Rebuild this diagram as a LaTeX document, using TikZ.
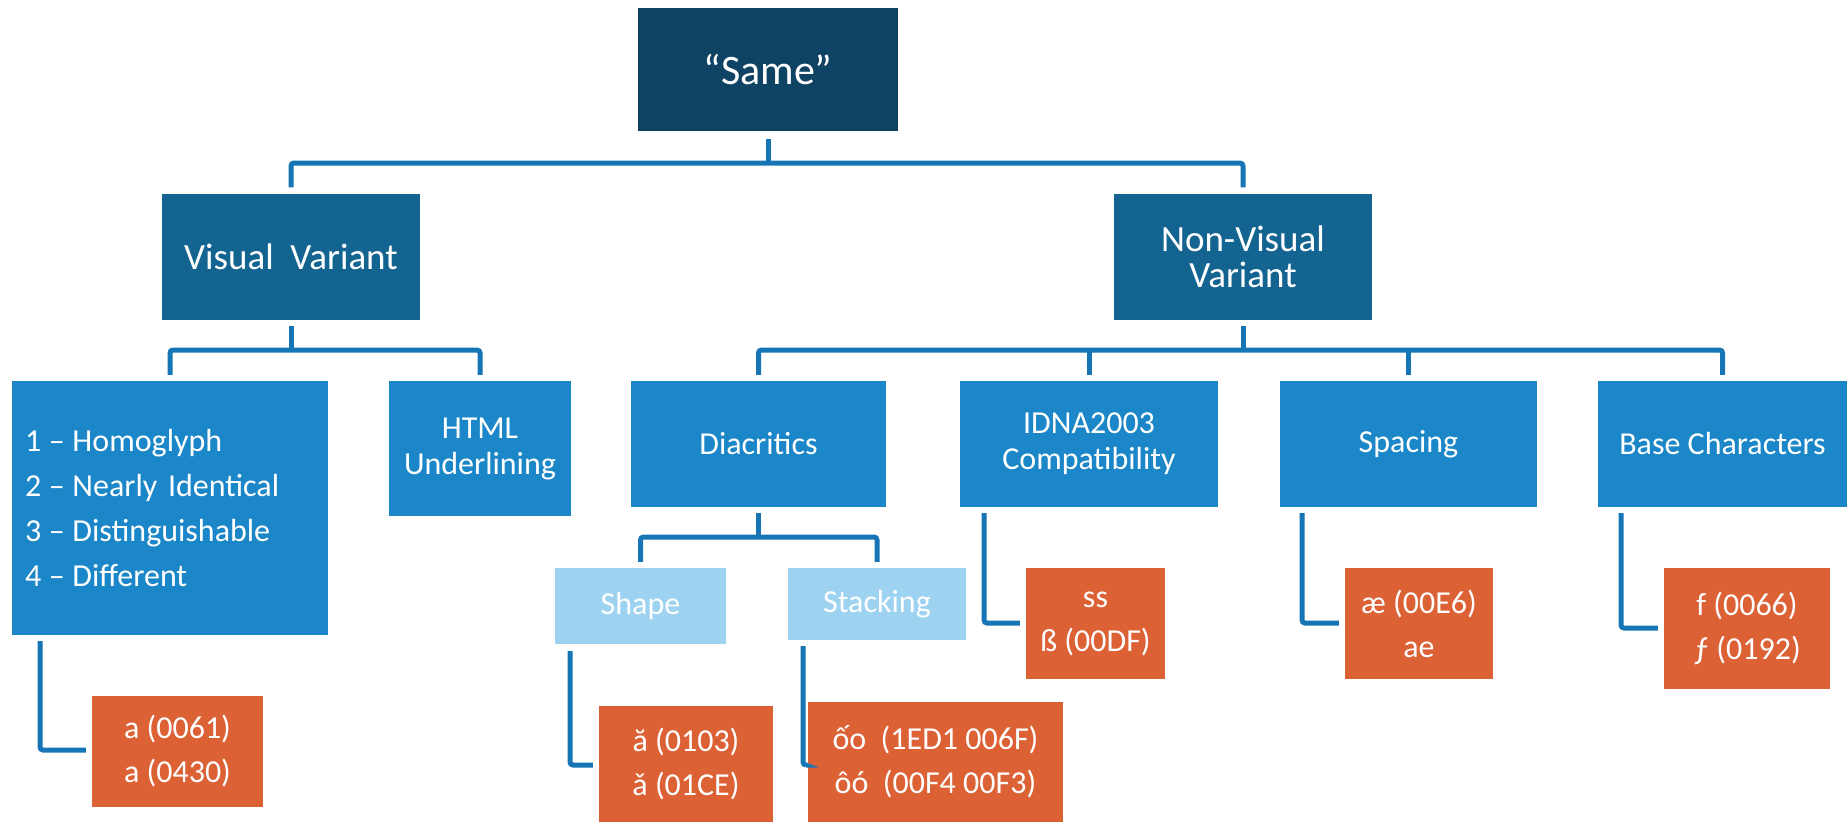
\documentclass[tikz,border=0pt]{standalone}
\usepackage{fontspec}
\setmainfont{Carlito}
\usetikzlibrary{calc}
\definecolor{cSame}{RGB}{15,67,100}
\definecolor{cLvlA}{RGB}{20,100,146}
\definecolor{cLvlB}{RGB}{28,135,200}
\definecolor{cLight}{RGB}{157,210,241}
\definecolor{cOrange}{RGB}{220,97,53}
\definecolor{cConn}{RGB}{22,117,180}
\newcommand\myfs[2]{\fontsize{#1pt}{#2pt}\selectfont}
\newcommand\mydash{\kern-3pt\ –\ \kern-3pt}
\begin{document}
\begin{tikzpicture}[x=1pt,y=-1pt,
  box/.style={rectangle, inner sep=0pt, text=white, align=center},
  topbox/.style={box, fill=cSame, font=\myfs{42}{48}},
  lvlone/.style={box, fill=cLvlA, font=\myfs{37}{36}},
  lvltwo/.style={box, fill=cLvlB, font=\myfs{32}{36}},
  lvllight/.style={box, fill=cLight, font=\myfs{32}{36}},
  leafbox/.style={box, fill=cOrange, font=\myfs{32}{44}},
  conn/.style={draw=cConn, line width=5pt, rounded corners=3pt}]
\useasboundingbox (0,0) rectangle (1847,822);

% nodes
\node[topbox, minimum width=260pt, minimum height=123pt] (same) at (768,69.5) {“Same”};
\node[lvlone, minimum width=258pt, minimum height=126pt] (vv) at (291,256.5) {Visual\ \ Variant};
\node[lvlone, minimum width=258pt, minimum height=126pt] (nvv) at (1243,256.5) {Non-Visual\\Variant};

\node[lvltwo, minimum width=316pt, minimum height=254pt, align=left, text width=290pt, font=\myfs{32}{45}] (homo) at (170,508)
  {1\mydash Homoglyph\\2\mydash Nearly Identical\\3\mydash Distinguishable\\4\mydash Different};
\node[lvltwo, minimum width=182pt, minimum height=135pt] (html) at (480,448.5) {HTML\\Underlining};
\node[lvltwo, minimum width=255pt, minimum height=126pt] (diac) at (758.5,444) {Diacritics};
\node[lvltwo, minimum width=258pt, minimum height=126pt] (idna) at (1089,444) {IDNA2003\\Compatibility};
\node[lvltwo, minimum width=257pt, minimum height=126pt] (spac) at (1408.5,444) {Spacing};
\node[lvltwo, minimum width=249pt, minimum height=126pt] (base) at (1722.5,444) {Base Characters};

\node[lvllight, minimum width=171pt, minimum height=76pt] (shape) at (640.5,606) {Shape};
\node[lvllight, minimum width=178pt, minimum height=72pt] (stack) at (877,604) {Stacking};

\node[leafbox, minimum width=171pt, minimum height=111pt] (la) at (177.5,751.5) {a (0061)\\а (0430)};
\node[leafbox, minimum width=174pt, minimum height=116pt] (lbreve) at (686,764) {ă (0103)\\ǎ (01CE)};
\node[leafbox, minimum width=255pt, minimum height=120pt] (lstack) at (935.5,762) {ốo\ \ (1ED1 006F)\\ôó\ \ (00F4 00F3)};
\node[leafbox, minimum width=139pt, minimum height=111pt] (lss) at (1095.5,623.5) {ss\\ß (00DF)};
\node[leafbox, minimum width=148pt, minimum height=111pt] (lae) at (1419,623.5) {æ (00E6)\\ae};
\node[leafbox, minimum width=166pt, minimum height=121pt] (lf) at (1747,628.5) {f (0066)\\ƒ (0192)};

% bus levels
\coordinate (busA) at (0,163);
\coordinate (busB) at (0,350);
\coordinate (busC) at (0,537);

% tree connectors
\draw[conn, rounded corners=0pt, shorten <=8pt] (same.south) -- (same.south |- busA);
\draw[conn, shorten <=6pt, shorten >=6pt] (vv.north) -- (vv.north |- busA) -- (nvv.north |- busA) -- (nvv.north);

\draw[conn, rounded corners=0pt, shorten <=6pt] (vv.south) -- (vv.south |- busB);
\draw[conn, shorten <=6pt, shorten >=6pt] (homo.north) -- (homo.north |- busB) -- (html.north |- busB) -- (html.north);

\draw[conn, rounded corners=0pt, shorten <=6pt] (nvv.south) -- (nvv.south |- busB);
\draw[conn, shorten <=6pt, shorten >=6pt] (diac.north) -- (diac.north |- busB) -- (base.north |- busB) -- (base.north);
\draw[conn, rounded corners=0pt, shorten >=6pt] (idna.north |- busB) -- (idna.north);
\draw[conn, rounded corners=0pt, shorten >=6pt] (spac.north |- busB) -- (spac.north);

\draw[conn, rounded corners=0pt, shorten <=6pt] (diac.south) -- (diac.south |- busC);
\draw[conn, shorten <=6pt, shorten >=6pt] (shape.north) -- (shape.north |- busC) -- (stack.north |- busC) -- (stack.north);

% elbow connectors to leaves
\coordinate (e1) at (40,750);
\coordinate (e2) at (570,765);
\coordinate (e3) at (803,765);
\coordinate (e4) at (984,623);
\coordinate (e5) at (1302,623);
\coordinate (e6) at (1621,628);
\draw[conn, shorten <=6pt, shorten >=6pt] (e1 |- homo.south) -- (e1) -- (e1 -| la.west);
\draw[conn, shorten <=7pt, shorten >=6pt] (e2 |- shape.south) -- (e2) -- (e2 -| lbreve.west);
\draw[conn, shorten <=6pt] (e3 |- stack.south) -- (e3) -- ($(e3 -| lstack.west)+(-2,0)$);
\draw[conn, shorten <=6pt, shorten >=6pt] (e4 |- idna.south) -- (e4) -- (e4 -| lss.west);
\draw[conn, shorten <=6pt, shorten >=6pt] (e5 |- spac.south) -- (e5) -- (e5 -| lae.west);
\draw[conn, shorten <=6pt, shorten >=6pt] (e6 |- base.south) -- (e6) -- (e6 -| lf.west);
\end{tikzpicture}
\end{document}
